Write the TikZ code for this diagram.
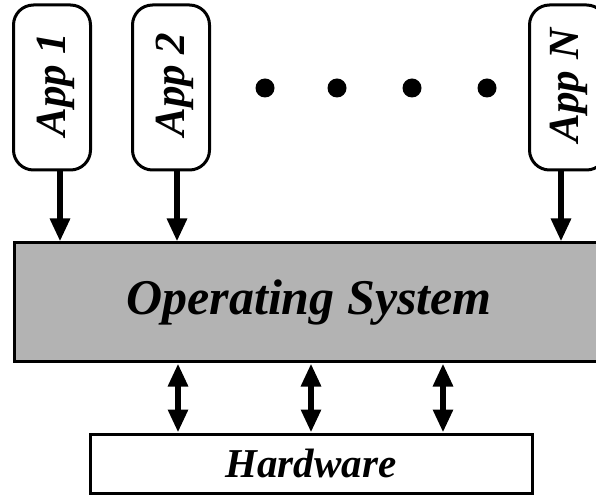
\documentclass[tikz,border=0pt]{standalone}
\usepackage{fontspec}
\setmainfont{Liberation Serif}
\usetikzlibrary{arrows.meta,positioning}
\definecolor{osgray}{HTML}{B3B3B3}

\begin{document}
\begin{tikzpicture}[%
    x=1pt, y=1pt,                % work in picture pixels
    >={Triangle[width=19pt, length=23pt]}, % big solid heads
    line width=3pt,
    ]
% -------------------------------------------------
% Box styles
\tikzset{
  base/.style={draw, align=center, font={\bfseries\itshape}},
  appbox/.style={base, rounded corners=20pt, minimum width=77pt,
    minimum height=165pt, inner sep=0pt},
  apptext/.style={rotate=90, font={\fontsize{43}{43}\selectfont\bfseries\itshape}},
  layer/.style={base, rectangle, inner sep=0pt},
  dot/.style={fill, circle, minimum size=19pt, inner sep=0pt},
  % -------------------------------------------------
  % Connector styles
  call/.style={->, draw, line width=6pt},
  both/.style={<->, draw, line width=6pt},
}
\useasboundingbox (0,0) rectangle (596,495);
% -------------------------------------------------
% The applications on top
\node [appbox] (app1) at (52,407.5) {};
\node [apptext] at ([xshift=4pt, yshift=3pt]app1.center) {App 1};
\node [appbox] (app2) at (171,407.5) {};
\node [apptext] at ([xshift=4pt, yshift=3pt]app2.center) {App 2};
\node [appbox] (appN) at (568,407.5) {};
\node [apptext] at ([xshift=1pt, yshift=2pt]appN.center) {App N};
% the dots between them
\foreach \x in {265,337,412,487}
  \node [dot] at (\x,407) {};
% -------------------------------------------------
% The two layers below
\node [layer, fill=osgray, minimum width=590pt, minimum height=119pt,
  font={\fontsize{50}{50}\selectfont\bfseries\itshape}] (os) at (309,192.5)
  {Operating System};
\node [layer, fill=white, minimum width=442pt, minimum height=59pt,
  font={\fontsize{41}{41}\selectfont\bfseries\itshape}] (hw) at (311,31.5)
  {Hardware};
% -------------------------------------------------
% Calls from the applications into the system
\draw [call] ([xshift=8pt]app1.south) -- ([xshift=8pt]app1.south |- os.north);
\draw [call] ([xshift=6pt]app2.south) -- ([xshift=6pt]app2.south |- os.north);
\draw [call] ([xshift=-7pt]appN.south) -- ([xshift=-7pt]appN.south |- os.north);
% system <-> hardware
\foreach \x in {178,311,443}
  \draw [both] (os.south -| \x,0) -- (hw.north -| \x,0);
\end{tikzpicture}
\end{document}
